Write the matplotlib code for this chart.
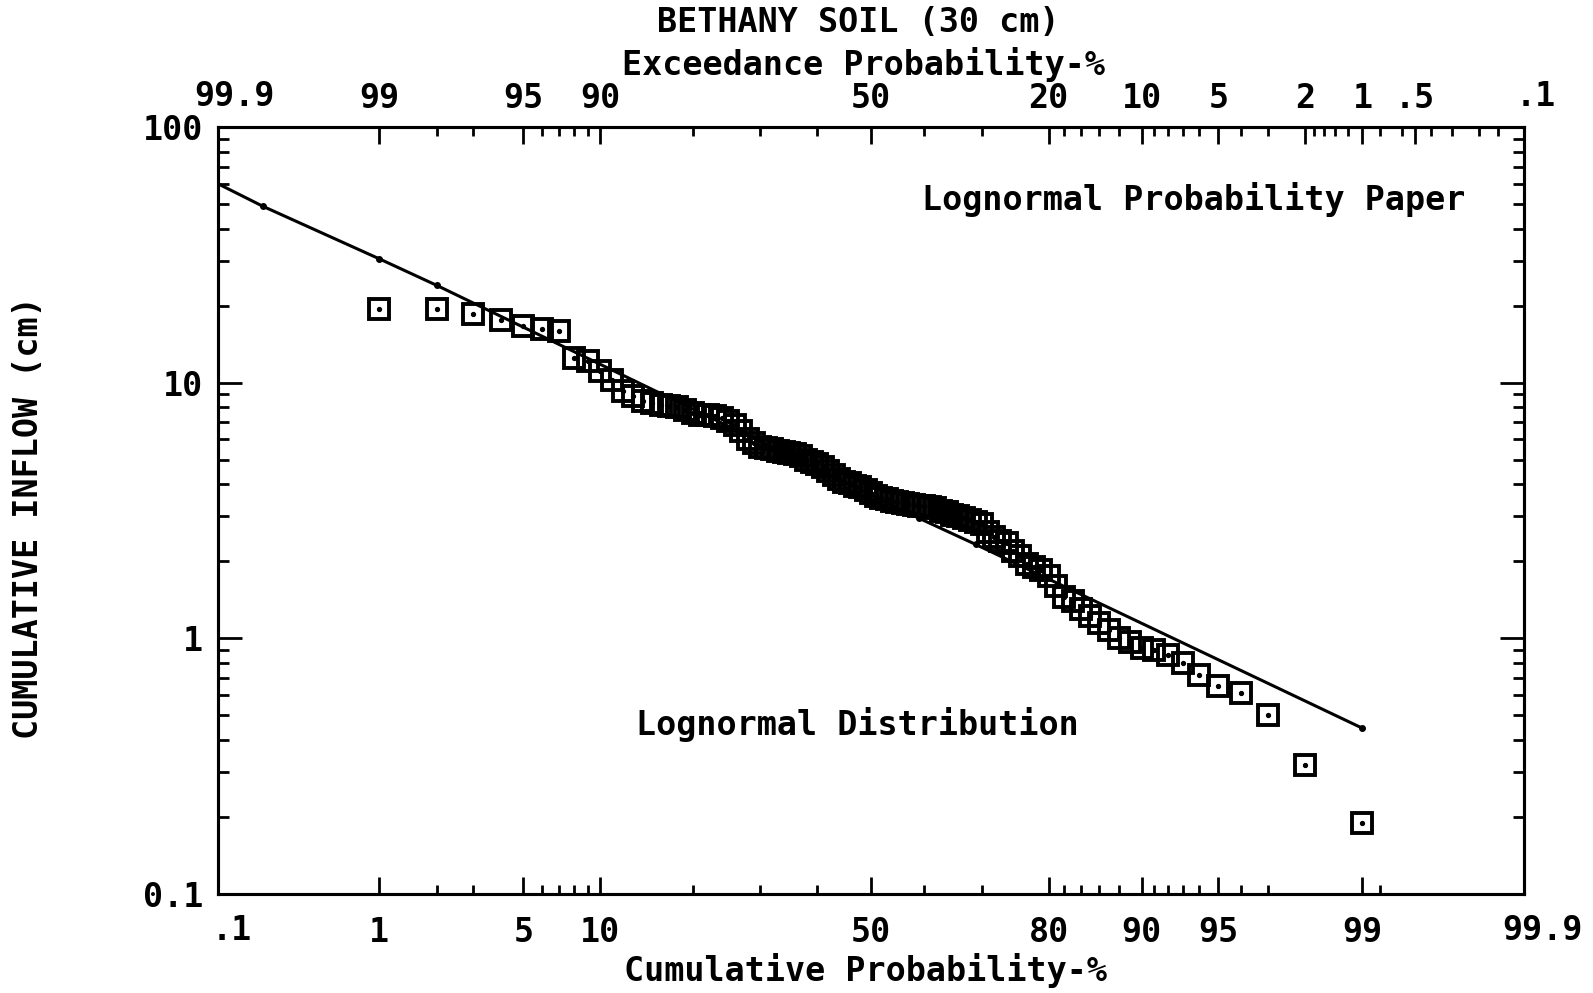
import matplotlib
matplotlib.use("Agg")
import matplotlib.pyplot as plt
import numpy as np
from statistics import NormalDist

# cumulative probability (%) of each observation and its inflow (cm)
cum_prob = list(range(1, 100))
inflow = [19.5, 19.5, 18.6, 17.6, 16.7, 16.2, 15.9, 12.5, 12.2, 11.1,
          10.2, 9.3, 8.9, 8.5, 8.3, 8.2, 8.1, 8.0, 7.8, 7.6,
          7.5, 7.5, 7.4, 7.3, 7.1, 6.8, 6.5, 6.0, 5.8, 5.6,
          5.55, 5.5, 5.4, 5.35, 5.3, 5.25, 5.15, 5.0, 4.9, 4.8,
          4.7, 4.5, 4.35, 4.2, 4.1, 4.05, 3.95, 3.9, 3.8, 3.7,
          3.6, 3.55, 3.5, 3.45, 3.4, 3.38, 3.35, 3.33, 3.3, 3.28,
          3.25, 3.22, 3.15, 3.12, 3.05, 3.0, 2.95, 2.9, 2.85, 2.8,
          2.6, 2.5, 2.4, 2.35, 2.2, 2.1, 1.95, 1.9, 1.85, 1.75,
          1.6, 1.45, 1.4, 1.3, 1.22, 1.15, 1.08, 1.0, 0.97, 0.92,
          0.9, 0.86, 0.8, 0.72, 0.65, 0.61, 0.50, 0.32, 0.19]

# fitted lognormal line
fit_prob = [0.1, 0.2, 1, 2, 59, 69, 99]
fit_inflow = [60, 49, 30.5, 24, 2.95, 2.33, 0.445]

# axis ticks (edge labels are drawn separately, slightly offset)
bottom_major = [0.1, 1, 5, 10, 50, 80, 90, 95, 99, 99.9]
bottom_labels = ["", "1", "5", "10", "50", "80", "90", "95", "99", ""]
bottom_minor = [2, 3, 6, 7, 8, 9, 20, 30, 40, 60, 70, 82, 84, 86, 88,
                91, 92, 93, 94, 96, 97, 99.2]
top_major = [99.9, 99, 95, 90, 50, 20, 10, 5, 2, 1, 0.5, 0.1]
top_labels = ["", "99", "95", "90", "50", "20", "10", "5", "2", "1", ".5", ""]
top_minor = [98, 97, 94, 93, 92, 91, 80, 70, 60, 40, 30, 18, 16, 14, 12,
             9, 8, 7, 6, 4, 3, 1.8, 1.6, 1.4, 1.2, 0.8, 0.6, 0.4, 0.3, 0.2, 0.15]
y_ticks = [0.1, 1, 10, 100]
y_labels = ["0.1", "1", "10", "100"]

_nd = NormalDist()


def prob_fwd(p):
    p = np.clip(np.asarray(p, dtype=float), 1e-9, 100 - 1e-9)
    return np.vectorize(lambda v: _nd.inv_cdf(v / 100.0), otypes=[float])(p)


def prob_inv(z):
    z = np.asarray(z, dtype=float)
    return np.vectorize(lambda v: _nd.cdf(v) * 100.0, otypes=[float])(z)


plt.rcParams['font.family'] = ['DejaVu Sans Mono']
plt.rcParams['font.weight'] = 'bold'
plt.rcParams['font.size'] = 24

fig = plt.figure(figsize=(15.93, 9.93), dpi=100)
ax = fig.add_axes([0.1368, 0.0997, 0.8198, 0.7724])
ax.set_xscale('function', functions=(prob_fwd, prob_inv))
ax.set_yscale('log')
ax.set_xlim(0.1, 99.9)
ax.set_ylim(0.1, 100)

ax.plot(fit_prob, fit_inflow, '-', color='black', lw=2.2,
        marker='o', ms=4, markevery=list(range(1, len(fit_prob))))
ax.plot(cum_prob, inflow, ls='none', marker='s', mfc='none', mec='black',
        ms=14.5, mew=2.8)
ax.plot(cum_prob, inflow, ls='none', marker='o', ms=2.8, color='black')

ax2 = ax.twiny()
ax2.set_xscale('function', functions=(prob_fwd, prob_inv))
ax2.set_xlim(0.1, 99.9)
ax2.set_xticks([100 - e for e in top_major])
ax2.set_xticklabels(top_labels)
ax2.set_xticks([100 - e for e in top_minor], minor=True)
ax2.tick_params(axis='x', which='major', direction='in', length=12, width=2, pad=9.0)
ax2.tick_params(axis='x', which='minor', direction='in', length=6.5, width=2)

ax.set_xticks(bottom_major)
ax.set_xticklabels(bottom_labels)
ax.set_xticks(bottom_minor, minor=True)
ax.tick_params(axis='x', which='major', direction='in', length=12, width=2,
               pad=15.5, top=False)
ax.tick_params(axis='x', which='minor', direction='in', length=6.5, width=2, top=False)

ax.set_yticks(y_ticks)
ax.set_yticklabels(y_labels)
ax.yaxis.set_minor_locator(matplotlib.ticker.LogLocator(base=10, subs=range(2, 10)))
ax.yaxis.set_minor_formatter(matplotlib.ticker.NullFormatter())
ax.tick_params(axis='y', which='major', direction='in', length=17, width=2,
               pad=10.8, left=True, right=True)
ax.tick_params(axis='y', which='minor', direction='in', length=8, width=2,
               left=True, right=True)

for a in (ax, ax2):
    for s in a.spines.values():
        s.set_linewidth(2.2)

ax.text(0.747, 0.905, "Lognormal Probability Paper", transform=ax.transAxes,
        ha='center', va='center')
ax.text(0.490, 0.2216, "Lognormal Distribution", transform=ax.transAxes,
        ha='center', va='center')

W, H = 1593.0, 993.0
# edge tick labels, nudged off the frame as in the original plot
fig.text(232 / W, 1 - 930 / H, ".1", ha='center', va='center')
fig.text(1543 / W, 1 - 930 / H, "99.9", ha='center', va='center')
fig.text(234 / W, 1 - 97 / H, "99.9", ha='center', va='center')
fig.text(1536 / W, 1 - 97 / H, ".1", ha='center', va='center')

fig.text(858 / W, 1 - 22 / H, "BETHANY SOIL (30 cm)", ha='center', va='center')
fig.text(864 / W, 1 - 64 / H, "Exceedance Probability-%", ha='center', va='center')
fig.text(866 / W, 1 - 970 / H, "Cumulative Probability-%", ha='center', va='center')
fig.text(28.5 / W, 1 - 518 / H, "CUMULATIVE INFLOW (cm)", ha='center', va='center',
         rotation=90)

fig.savefig("out.png", dpi=100)
